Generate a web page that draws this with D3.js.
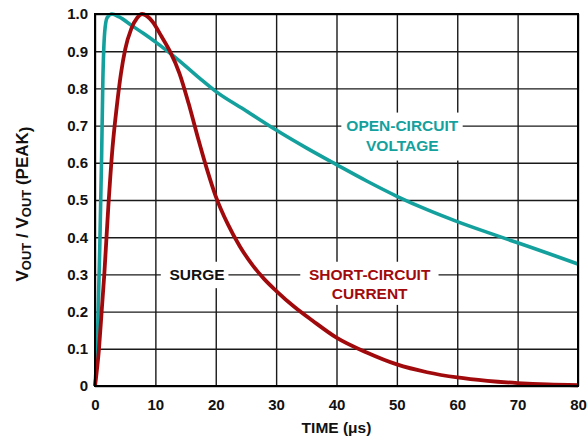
<!DOCTYPE html>
<html>
<head>
<meta charset="utf-8">
<script src="https://cdn.jsdelivr.net/npm/d3@7"></script>
<style>
  body { margin: 0; background: #fff; }
  svg text { font-family: "Liberation Sans", Arial, sans-serif; font-weight: bold; }
</style>
</head>
<body>
<div class="chart"></div>
<script>
var svgWidth = 587;
var svgHeight = 438;

var margin = { top: 14, right: 9, bottom: 52, left: 95 };
var width = svgWidth - margin.left - margin.right;
var height = svgHeight - margin.top - margin.bottom;

// Data
var xTicks = [0, 10, 20, 30, 40, 50, 60, 70, 80];
var yTicks = [0, 0.1, 0.2, 0.3, 0.4, 0.5, 0.6, 0.7, 0.8, 0.9, 1.0];

var voltageT = [0, 0.4, 0.8, 1.1, 1.3, 1.6, 2.0, 2.8, 4, 6, 8, 10, 12, 15, 17.5, 20, 25, 30, 35, 40, 45, 50, 55, 60, 65, 70, 75, 80];
var voltageV = [0, 0.12, 0.38, 0.62, 0.82, 0.95, 0.99, 1.0, 0.992, 0.97, 0.948, 0.925, 0.9, 0.86, 0.825, 0.792, 0.74, 0.688, 0.64, 0.595, 0.551, 0.51, 0.474, 0.442, 0.413, 0.385, 0.357, 0.328];

var currentT = [0, 0.66, 1.1, 1.54, 2.2, 2.9, 3.6, 4.3, 5.0, 6.0, 7.0, 7.8, 9.5, 11, 12.4, 14, 15.5, 17, 18.5, 20, 22, 24, 26, 28, 30, 33, 36, 40, 45, 50, 55, 60, 65, 70, 75, 80];
var currentV = [0, 0.1, 0.2, 0.3, 0.48, 0.64, 0.75, 0.84, 0.905, 0.96, 0.99, 1.0, 0.98, 0.94, 0.9, 0.84, 0.76, 0.67, 0.585, 0.51, 0.435, 0.375, 0.327, 0.288, 0.256, 0.213, 0.176, 0.13, 0.09, 0.058, 0.037, 0.023, 0.014, 0.008, 0.004, 0.002];

var teal = "#14a19e";
var red = "#a10a0c";

var svg = d3.select(".chart")
  .append("svg")
  .attr("width", svgWidth)
  .attr("height", svgHeight);

var chartGroup = svg.append("g")
  .attr("transform", `translate(${margin.left}, ${margin.top})`);

var xScale = d3.scaleLinear().domain([0, 80]).range([0, width]);
var yScale = d3.scaleLinear().domain([0, 1]).range([height, 0]);

// Grid
chartGroup.append("g")
  .call(d3.axisBottom(xScale).tickValues(xTicks).tickSize(height).tickFormat(""))
  .call(g => g.select(".domain").remove())
  .selectAll("line").attr("stroke", "#1a1a1a").attr("stroke-width", 1.4);

chartGroup.append("g")
  .call(d3.axisLeft(yScale).tickValues(yTicks).tickSize(-width).tickFormat(""))
  .call(g => g.select(".domain").remove())
  .selectAll("line").attr("stroke", "#1a1a1a").attr("stroke-width", 1.4);

// Tick labels
var xAxis = chartGroup.append("g")
  .attr("transform", `translate(0, ${height})`)
  .call(d3.axisBottom(xScale).tickValues(xTicks).tickSize(0).tickPadding(13).tickFormat(d3.format("d")));
xAxis.select(".domain").remove();
xAxis.selectAll("text").attr("font-size", "15px").attr("fill", "#111");

var yAxis = chartGroup.append("g")
  .call(d3.axisLeft(yScale).tickValues(yTicks).tickSize(0).tickPadding(7)
    .tickFormat(d => d === 0 ? "0" : d3.format(".1f")(d)));
yAxis.select(".domain").remove();
yAxis.selectAll("text").attr("font-size", "15px").attr("fill", "#111");

// Label boxes (white, masking the grid)
function labelBox(x0, y0, x1, y1) {
  chartGroup.append("rect")
    .attr("x", x0).attr("y", y0)
    .attr("width", x1 - x0).attr("height", y1 - y0)
    .attr("fill", "#fff");
}
labelBox(xScale(40.8), yScale(0.735), xScale(60.9), yScale(0.606));
labelBox(xScale(10.9), yScale(0.334), xScale(22.1), yScale(0.263));
labelBox(xScale(34.0), yScale(0.334), xScale(56.9), yScale(0.218));

// Curves
var line = d3.line()
  .x(d => xScale(d[0]))
  .y(d => yScale(d[1]))
  .curve(d3.curveMonotoneX);

chartGroup.append("path")
  .datum(voltageT.map((t, i) => [t, voltageV[i]]))
  .attr("d", line)
  .attr("fill", "none")
  .attr("stroke", teal)
  .attr("stroke-width", 3.6)
  .attr("stroke-linejoin", "round");

chartGroup.append("path")
  .datum(currentT.map((t, i) => [t, currentV[i]]))
  .attr("d", line)
  .attr("fill", "none")
  .attr("stroke", red)
  .attr("stroke-width", 3.8)
  .attr("stroke-linejoin", "round");

// Frame
chartGroup.append("rect")
  .attr("width", width).attr("height", height)
  .attr("fill", "none")
  .attr("stroke", "#000")
  .attr("stroke-width", 2);

// Annotations
function annotate(lines, x, y, color) {
  var t = chartGroup.append("text")
    .attr("text-anchor", "middle")
    .attr("font-size", "15.5px")
    .attr("fill", color);
  lines.forEach(function(s, i) {
    t.append("tspan")
      .attr("x", xScale(x))
      .attr("y", yScale(y) + 5.5 + i * 19.5)
      .text(s);
  });
}
annotate(["OPEN-CIRCUIT", "VOLTAGE"], 50.9, 0.7, teal);
annotate(["SURGE"], 16.9, 0.3, "#111");
annotate(["SHORT-CIRCUIT", "CURRENT"], 45.5, 0.3, red);

// Axis titles
chartGroup.append("text")
  .attr("x", width / 2)
  .attr("y", height + 47)
  .attr("text-anchor", "middle")
  .attr("font-size", "15.5px")
  .attr("fill", "#111")
  .text("TIME (μs)");

var yTitle = svg.append("text")
  .attr("transform", `translate(28, ${margin.top + height / 2 + 4}) rotate(-90)`)
  .attr("text-anchor", "middle")
  .attr("font-size", "17px")
  .attr("fill", "#111");
yTitle.append("tspan").text("V");
yTitle.append("tspan").attr("font-size", "13px").attr("dy", 3).text("OUT");
yTitle.append("tspan").attr("dy", -3).text(" / V");
yTitle.append("tspan").attr("font-size", "13px").attr("dy", 3).text("OUT");
yTitle.append("tspan").attr("dy", -3).text(" (PEAK");
yTitle.append("tspan").attr("dy", 3).text(")");
</script>
</body>
</html>
